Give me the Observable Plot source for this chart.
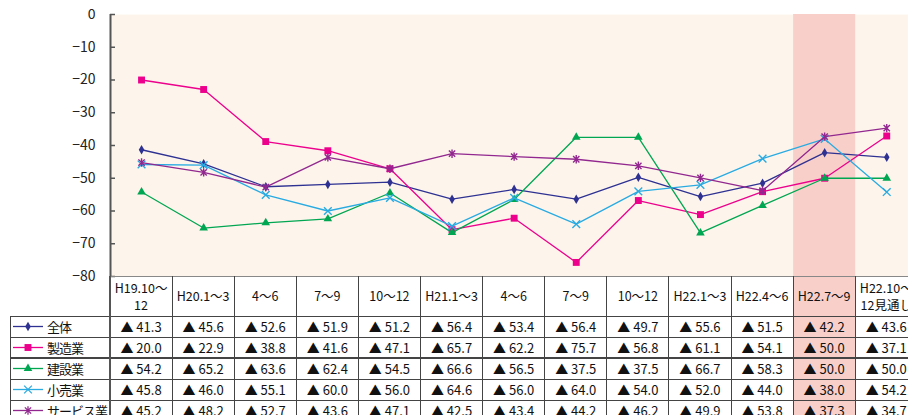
<!DOCTYPE html>
<html><head><meta charset="utf-8">
<script src="https://cdn.jsdelivr.net/npm/d3@7"></script>
<script src="https://cdn.jsdelivr.net/npm/@observablehq/plot@0.6"></script>
<style>
body{margin:0;background:#fff;}
#wrap{position:relative;width:908px;height:415px;overflow:hidden;font-family:"Noto Sans CJK JP",sans-serif;color:#111}
.c{position:absolute;box-sizing:border-box;display:flex;align-items:center;justify-content:center;white-space:nowrap;text-align:center}
.ln{position:absolute;background:#444}
</style></head><body><div id="wrap"><div id="chart"></div></div>
<script>
// ---- data ----
const periods = ["H19.10～\n12","H20.1～3","4～6","7～9","10～12","H21.1～3","4～6","7～9","10～12","H22.1～3","H22.4～6","H22.7～9","H22.10～\n12見通し"];
const seriesNames = ["全体","製造業","建設業","小売業","サービス業"];
const zentai   = [41.3,45.6,52.6,51.9,51.2,56.4,53.4,56.4,49.7,55.6,51.5,42.2,43.6];
const seizo    = [20.0,22.9,38.8,41.6,47.1,65.7,62.2,75.7,56.8,61.1,54.1,50.0,37.1];
const kensetsu = [54.2,65.2,63.6,62.4,54.5,66.6,56.5,37.5,37.5,66.7,58.3,50.0,50.0];
const kouri    = [45.8,46.0,55.1,60.0,56.0,64.6,56.0,64.0,54.0,52.0,44.0,38.0,54.2];
const service  = [45.2,48.2,52.7,43.6,47.1,42.5,43.4,44.2,46.2,49.9,53.8,37.3,34.7];
const seriesValues = [zentai, seizo, kensetsu, kouri, service];
const yTicks = [0,-10,-20,-30,-40,-50,-60,-70,-80];
const highlightPeriod = 11;

// ---- styles ----
const colors = ["#2e3192","#ec008c","#00a651","#29abe2","#92278f"];
const asterisk = {draw(ctx, size){const r=Math.sqrt(size/Math.PI);const d=r*0.75;
  ctx.moveTo(0,-r);ctx.lineTo(0,r);ctx.moveTo(-d,-d);ctx.lineTo(d,d);ctx.moveTo(-d,d);ctx.lineTo(d,-d);}};
const symbols = [d3.symbolDiamond, d3.symbolSquare, d3.symbolTriangle, d3.symbolTimes, asterisk];
const filled = [true,true,true,false,false];
const radii = [2.9,3.9,3.2,3.6,4.2];

const rows = [];
seriesValues.forEach((vals, s) => vals.forEach((v, i) => rows.push({s, i, v: -v})));

const colW = 62.1, left0 = 110;
const marks = [
  Plot.frame({fill:"#fdf5ec"}),
  Plot.rectY([highlightPeriod], {x1: d=>d-0.5, x2: d=>d+0.5, y1: yTicks[yTicks.length-1], y2: yTicks[0], fill:"#f9d0c9"}),
  Plot.ruleX([-0.5], {stroke:"#555", strokeWidth:2}),
  Plot.axisY(yTicks, {label:null, tickSize:-5, tickPadding:20, fontSize:14, stroke:"#555", strokeWidth:1.5})
];
seriesNames.forEach((name, s) => {
  const d = rows.filter(r => r.s === s);
  marks.push(Plot.line(d, {x:"i", y:"v", stroke: colors[s], strokeWidth:1.3}));
  marks.push(Plot.dot(d, {x:"i", y:"v", symbol: symbols[s], r: radii[s],
    fill: filled[s] ? colors[s] : "none", stroke: filled[s] ? "none" : colors[s], strokeWidth:1.4}));
});

const chart = Plot.plot({
  width:908, height:277, marginTop:14, marginBottom:1, marginLeft:left0, marginRight:0,
  style:{fontFamily:"'Noto Sans CJK JP',sans-serif", fontSize:"14px", background:"transparent", overflow:"visible", color:"#222"},
  x:{type:"linear", domain:[-0.5, periods.length-0.5], range:[left0, left0+colW*periods.length], axis:null},
  y:{domain:[yTicks[yTicks.length-1], yTicks[0]], axis:null},
  marks
});
document.getElementById("chart").appendChild(chart);

// ---- data table below the chart ----
const wrap = document.getElementById("wrap");
const xs = chart.scale("x");
const X = v => xs.apply(v);
const top0 = 276, headH = 40, rowH = 21;
function div(cls, css, html){const e=document.createElement("div");e.className=cls;Object.assign(e.style,css);if(html!=null)e.innerHTML=html;wrap.appendChild(e);return e;}
// highlight column
div("ln",{left:X(highlightPeriod-0.5)+"px",top:top0+"px",width:(X(highlightPeriod+0.5)-X(highlightPeriod-0.5))+"px",height:"139px",background:"#f9d0c9"});
// header
periods.forEach((p,i)=>{
  div("c",{left:X(i-0.5)+"px",top:top0+"px",width:(X(i+0.5)-X(i-0.5))+"px",height:headH+"px",fontSize:"12.5px",lineHeight:"17.5px"}, p.replace("\n","<br>"));
});
// rows
seriesNames.forEach((name,s)=>{
  const y = top0+headH+rowH*s;
  const path = d3.symbol(symbols[s], Math.PI*radii[s]*radii[s])();
  const sym = `<svg width="34" height="21" style="flex:none"><line x1="3" x2="33" y1="10.5" y2="10.5" stroke="${colors[s]}" stroke-width="1.3"/><path transform="translate(18,10.5)" d="${path}" fill="${filled[s]?colors[s]:'none'}" stroke="${filled[s]?'none':colors[s]}" stroke-width="1.3"/></svg>`;
  div("c",{left:"10px",top:y+"px",width:"100px",height:rowH+"px",justifyContent:"flex-start",fontSize:"13px",letterSpacing:"-1px"}, sym+`<span style="margin-left:3px">${name}</span>`);
  seriesValues[s].forEach((v,i)=>{
    div("c",{left:X(i-0.5)+"px",top:y+"px",width:(X(i+0.5)-X(i-0.5))+"px",height:rowH+"px",fontSize:"13px"}, "▲ "+v.toFixed(1));
  });
});
// grid lines
div("ln",{left:left0+"px",top:(top0-0.5)+"px",width:"800px",height:"1px",background:"#888"});
for(let s=0;s<=seriesNames.length;s++){
  const y = top0+headH+rowH*s;
  div("ln",{left:"10px",top:(y-(s===2?1:0.5))+"px",width:"900px",height:(s===2?2:1)+"px"});
}
for(let i=0;i<=periods.length;i++){
  div("ln",{left:(X(i-0.5)-(i===0?1:0.5))+"px",top:top0+"px",width:(i===0?2:1)+"px",height:"139px",background:i===0?"#555":"#444"});
}
div("ln",{left:"9.5px",top:(top0+headH)+"px",width:"1px",height:"100px"});
</script></body></html>
